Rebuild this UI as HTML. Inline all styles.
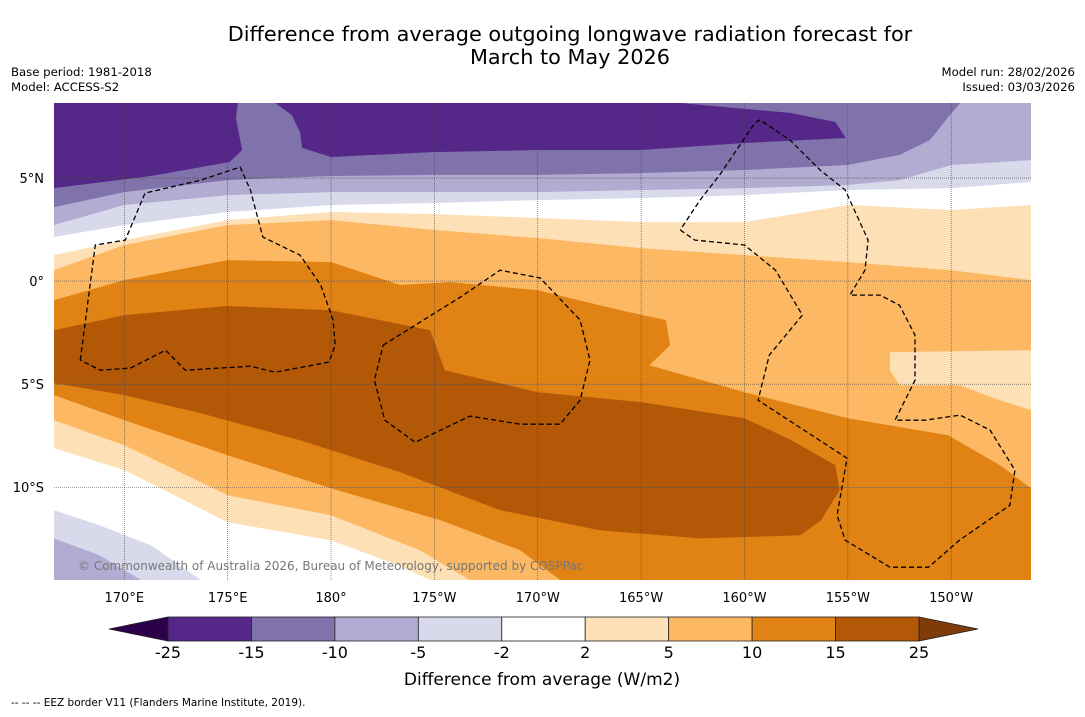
<!DOCTYPE html>
<html><head><meta charset="utf-8"><style>
body{margin:0;background:#fff;font-family:"DejaVu Sans","Liberation Sans",sans-serif;}
svg text{font-family:"DejaVu Sans","Liberation Sans",sans-serif;}
</style></head><body>
<svg id="c" width="1085" height="713" xmlns="http://www.w3.org/2000/svg">
<text x="570" y="41" font-size="20.8" text-anchor="middle">Difference from average outgoing longwave radiation forecast for</text>
<text x="570" y="64" font-size="20.8" text-anchor="middle">March to May 2026</text>
<text x="11" y="76" font-size="11.7">Base period: 1981-2018</text>
<text x="11" y="91" font-size="11.7">Model: ACCESS-S2</text>
<text x="1075" y="76" font-size="11.7" text-anchor="end">Model run: 28/02/2026</text>
<text x="1075" y="91" font-size="11.7" text-anchor="end">Issued: 03/03/2026</text>
<defs><clipPath id="mc"><rect x="54" y="103" width="977" height="477"/></clipPath></defs>
<g id="map" clip-path="url(#mc)"><rect x="54" y="103" width="977" height="477" fill="#fff"/></g>
<g id="axes"></g>
<g id="cbar"></g>
<text x="542" y="685" font-size="17" text-anchor="middle">Difference from average (W/m2)</text>
<text x="11" y="706" font-size="10.5">--  --  -- EEZ border V11 (Flanders Marine Institute, 2019).</text>
</svg>
<script>
const LON0=166.6, LON1=213.86, LAT0=8.64, LAT1=-14.5;
const lonTicks=[170,175,180,185,190,195,200,205,210];
const lonLabels=["170°E","175°E","180°","175°W","170°W","165°W","160°W","155°W","150°W"];
const latTicks=[5,0,-5,-10];
const latLabels=["5°N","0°","5°S","10°S"];
const cbarLevels=["-25","-15","-10","-5","-2","2","5","10","15","25"];
const cbarColors=["#542788","#8073ac","#b2abd2","#d8daeb","#ffffff","#fee0b6","#fdb863","#e08214","#b35806"];
const cbarExt=["#2d004b","#7f3b08"];
const pos2=[[166.6,1.26],[170,1.99],[175,2.96],[180,3.35],[185,3.25],[190,3.06],[195,2.86],[200,2.86],[205,3.69],[210,3.45],[213.86,3.69],[213.86,-14.5],[184.8,-14.5],[183.3,-13.8],[180,-12.57],[175,-11.7],[170,-9.17],[166.6,-8.1]];
const pos5=[[166.6,0.53],[170,1.75],[175,2.72],[180,2.96],[185,2.48],[190,2.09],[195,1.6],[200,1.26],[205,0.92],[210,0.53],[213.86,0.05],[213.86,-14.5],[186.7,-14.5],[184.3,-13.06],[180,-11.36],[175,-10.39],[170,-7.96],[166.6,-6.75]];
const patch2=[[207.04,-3.45],[213.86,-3.35],[213.86,-6.26],[212.36,-5.78],[210.4,-5.05],[207.5,-5.05],[207.04,-4.32]];
const pos10=[[166.6,-0.92],[170,0.05],[175,1.02],[180,0.92],[183.35,-0.19],[185.76,-0.05],[190,-0.44],[194,-1.41],[196.2,-1.89],[196.4,-3.11],[195.4,-4.08],[200,-5.39],[205,-6.65],[209.85,-7.48],[212.36,-8.93],[213.86,-10.05],[213.86,-14.5],[191.08,-14.5],[189.15,-13.06],[185.3,-11.6],[180,-10.05],[175,-8.45],[170,-6.75],[166.6,-5.53]];
const pos15=[[166.6,-2.38],[170,-1.65],[175,-1.21],[180,-1.41],[184.8,-2.38],[185.5,-4.32],[190,-5.39],[195,-5.87],[200,-6.65],[202.27,-7.72],[204.4,-8.93],[204.6,-10.15],[203.7,-11.6],[202.7,-12.33],[197.85,-12.48],[193,-12.09],[188.2,-11.12],[183.35,-9.27],[178.5,-7.72],[173.7,-6.41],[170,-5.53],[166.6,-4.95]];
const neg2=[[166.6,8.64],[213.86,8.64],[213.86,4.81],[210,4.51],[205,4.42],[200,4.17],[195,4.03],[190,3.93],[185,3.79],[180,3.69],[175,3.35],[170,2.72],[166.6,2.14]];
const neg5=[[166.6,8.64],[213.86,8.64],[213.86,5.87],[210,5.63],[207.5,4.9],[205,4.66],[200,4.51],[195,4.42],[190,4.32],[185,4.32],[180,4.32],[175,4.17],[170,3.69],[166.6,2.72]];
const neg10=[[166.6,8.64],[210.43,8.64],[209.94,8.06],[208.97,6.84],[207.5,6.12],[205,5.63],[200,5.39],[195,5.24],[190,5.15],[185,5.15],[180,5.1],[175,4.9],[170,4.32],[166.6,3.59]];
const neg15a=[[166.6,8.64],[175.5,8.64],[175.4,7.91],[175.7,6.36],[175.1,5.78],[171.3,5.1],[166.6,4.51]];
const neg15b=[[177.3,8.64],[178.1,8.06],[178.5,7.23],[178.6,6.46],[180,6.02],[184.9,6.26],[190,6.36],[195,6.36],[200,6.7],[204.9,6.94],[204.4,7.72],[202.2,8.16],[196.9,8.64]];
const negSW2=[[166.6,-11.12],[168.8,-11.84],[171.3,-12.82],[173.7,-14.5],[166.6,-14.5]];
const negSW5=[[166.6,-12.48],[168.8,-13.3],[170.8,-14.5],[166.6,-14.5]];
const eezW=[[167.87,-3.83],[168.6,1.75],[170.05,1.99],[171,4.27],[173.7,4.9],[175.6,5.53],[176.1,4.42],[176.7,2.14],[178.5,1.26],[179.5,-0.19],[180.1,-1.89],[180.2,-3.11],[179.9,-3.93],[177.3,-4.42],[176.1,-4.13],[172.95,-4.32],[172,-3.35],[170.3,-4.22],[168.84,-4.32],[167.87,-3.83]];
const eezP=[[182.52,-3.11],[186.25,-0.78],[188.18,0.53],[190.12,0.15],[192.05,-1.89],[192.53,-3.83],[192.05,-5.78],[191.08,-6.94],[189.15,-6.94],[186.73,-6.55],[184.07,-7.82],[182.6,-6.75],[182.1,-4.81],[182.52,-3.11]];
const eezL=[[196.89,2.48],[197.6,1.99],[200,1.75],[201.5,0.53],[202.8,-1.65],[201.2,-3.59],[200.66,-5.78],[204.96,-8.59],[204.48,-11.36],[204.87,-12.57],[207.04,-13.88],[208.9,-13.88],[210.4,-12.57],[212.84,-10.87],[213.08,-9.17],[211.88,-7.23],[210.43,-6.5],[208.73,-6.75],[207.28,-6.75],[208.25,-4.81],[208.25,-2.62],[207.5,-1.17],[206.56,-0.68],[205.1,-0.68],[205.83,0.53],[205.98,1.99],[204.87,4.42],[203.66,5.39],[202.2,6.84],[200.75,7.82],[200.5,7.67],[198.8,5.15],[197.85,3.93],[196.89,2.48]];
const NS="http://www.w3.org/2000/svg";
const X=l=>54+(l-LON0)/(LON1-LON0)*977;
const Y=l=>103+(LAT0-l)/(LAT0-LAT1)*477;
const map=document.getElementById('map'),axes=document.getElementById('axes'),cb=document.getElementById('cbar');
function mk(t,a,p){const e=document.createElementNS(NS,t);for(const k in a)e.setAttribute(k,a[k]);p.appendChild(e);return e;}
const pts=arr=>arr.map(p=>X(p[0]).toFixed(1)+','+Y(p[1]).toFixed(1)).join(' ');
const layers=[[pos2,"#fee0b6","band-2-5"],[pos5,"#fdb863","band-5-10"],[patch2,"#fee0b6","band-2-5-patch"],[pos10,"#e08214","band-10-15"],[pos15,"#b35806","band-15-25"],[neg2,"#d8daeb","band-neg2-neg5"],[neg5,"#b2abd2","band-neg5-neg10"],[neg10,"#8073ac","band-neg10-neg15"],[neg15a,"#542788","band-neg15-west"],[neg15b,"#542788","band-neg15-east"],[negSW2,"#d8daeb","band-neg2-sw"],[negSW5,"#b2abd2","band-neg5-sw"]];
layers.forEach(L=>{const e=mk('polygon',{points:pts(L[0]),fill:L[1]},map);

});
lonTicks.forEach((t,i)=>{const x=X(t);
const g=mk('line',{x1:x,x2:x,y1:103,y2:580,stroke:'#444','stroke-width':0.6,'stroke-dasharray':'1,1'},map);


const tx=mk('text',{x:x,y:602,'font-size':13,'text-anchor':'middle'},axes);tx.textContent=lonLabels[i];

});
latTicks.forEach((t,i)=>{const y=Y(t);
const g=mk('line',{x1:54,x2:1031,y1:y,y2:y,stroke:'#444','stroke-width':0.6,'stroke-dasharray':'1,1'},map);


const tx=mk('text',{x:44,y:y+5,'font-size':13,'text-anchor':'end'},axes);tx.textContent=latLabels[i];

});
[eezW,eezP,eezL].forEach(a=>{const e=mk('polyline',{points:pts(a),fill:'none',stroke:'#000','stroke-width':1.3,'stroke-dasharray':'5,3'},map);

});
const cp=mk('text',{x:78,y:570,'font-size':12,fill:'#777'},map);cp.textContent='© Commonwealth of Australia 2026, Bureau of Meteorology, supported by COSPPac';


const bx0=168,bx1=919,by0=617,by1=641,bw=(bx1-bx0)/cbarColors.length;
const lt=mk('polygon',{points:`${bx0},${by0} ${bx0},${by1} 109,${(by0+by1)/2}`,fill:cbarExt[0],stroke:'#222','stroke-width':0.8},cb);


const rt=mk('polygon',{points:`${bx1},${by0} ${bx1},${by1} 978,${(by0+by1)/2}`,fill:cbarExt[1],stroke:'#222','stroke-width':0.8},cb);


cbarColors.forEach((c,i)=>{const r=mk('rect',{x:bx0+i*bw,y:by0,width:bw,height:by1-by0,fill:c,stroke:'#222','stroke-width':0.8},cb);

});
cbarLevels.forEach((l,i)=>{const t=mk('text',{x:bx0+i*bw,y:658,'font-size':16,'text-anchor':'middle'},cb);t.textContent=l;

});
</script>
</body></html>
